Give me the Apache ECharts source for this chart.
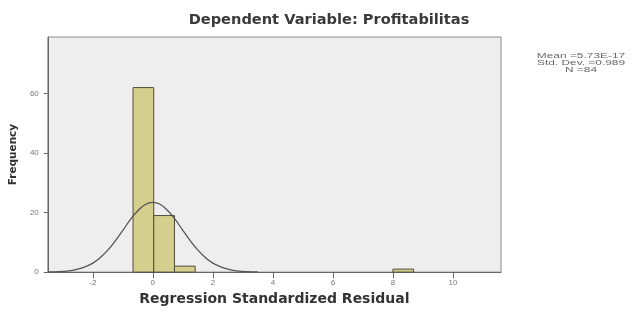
<!DOCTYPE html>
<html>
<head>
<meta charset="utf-8">
<script src="https://cdn.jsdelivr.net/npm/echarts@6/dist/echarts.min.js"></script>
<style>
html,body{margin:0;padding:0;background:#fff;}
#chart{width:632px;height:311px;}
</style>
</head>
<body>
<div id="chart"></div>
<script>
// Histogram bins (start of each bin) and counts
const binStarts = [-0.66, 0.03, 0.72, 8.0];
const binWidth = 0.69;
const counts = [62, 19, 2, 1];
// Normal curve
const curveX = [-3.5,-3.25,-3,-2.75,-2.5,-2.25,-2,-1.75,-1.5,-1.25,-1,-0.75,-0.5,-0.25,0,0.25,0.5,0.75,1,1.25,1.5,1.75,2,2.25,2.5,2.75,3,3.25,3.5];
const curveY = [0.04,0.1,0.23,0.49,0.96,1.8,3.0,4.9,7.4,10.5,14.0,17.6,20.6,22.7,23.4,22.7,20.6,17.6,14.0,10.5,7.4,4.9,3.0,1.8,0.96,0.49,0.23,0.1,0.04];
const xTicks = [-2, 0, 2, 4, 6, 8, 10];
const yTicks = [0, 20, 40, 60];
const titleText = 'Dependent Variable: Profitabilitas';
const xName = 'Regression Standardized Residual';
const yName = 'Frequency';
const statsLines = ['Mean =5.73E-17', 'Std. Dev. =0.989', 'N =84'];

const chart = echarts.init(document.getElementById('chart'), null, {renderer: 'canvas'});
const font = 'Liberation Sans, Arial, sans-serif';
const boldFont = 'DejaVu Sans, Verdana, sans-serif';

const barData = binStarts.map((s, i) => [s, s + binWidth, counts[i]]);
const lineData = curveX.map((x, i) => [x, curveY[i]]);

chart.setOption({
  animation: false,
  backgroundColor: '#ffffff',
  title: {
    text: titleText,
    left: 324, top: 8, textAlign: 'center',
    textStyle: {fontFamily: boldFont, fontSize: 14.6, fontWeight: 'bold', color: '#3a3a3a'}
  },
  grid: {
    left: 47, right: 131, top: 37, bottom: 38,
    show: true, backgroundColor: '#eeeeee', borderColor: '#8a8a8a', borderWidth: 1
  },
  xAxis: {
    type: 'value', min: -3.5, max: 11.6,
    name: xName, nameLocation: 'middle', nameGap: 17,
    nameTextStyle: {fontFamily: boldFont, fontSize: 14, fontWeight: 'bold', color: '#333', verticalAlign: 'top'},
    axisLine: {show: true, onZero: false, lineStyle: {color: '#666', width: 1}},
    axisTick: {show: true, customValues: xTicks, length: 6, lineStyle: {color: '#666'}},
    axisLabel: {customValues: xTicks, fontFamily: font, fontSize: 8, color: '#777', margin: 7},
    splitLine: {show: false}
  },
  yAxis: {
    type: 'value', min: 0, max: 79,
    name: yName, nameLocation: 'middle', nameGap: 28, nameRotate: 90,
    nameTextStyle: {fontFamily: boldFont, fontSize: 10.5, fontWeight: 'bold', color: '#333'},
    axisLine: {show: true, onZero: false, lineStyle: {color: '#666', width: 1}},
    axisTick: {show: true, customValues: yTicks, length: 4, lineStyle: {color: '#666'}},
    axisLabel: {customValues: yTicks, fontFamily: font, fontSize: 8, color: '#777', margin: 9},
    splitLine: {show: false}
  },
  graphic: statsLines.map((t, i) => ({
    type: 'text', x: 581, y: 53 + i * 7, scaleX: 1.7,
    style: {text: t, fontFamily: font, fontSize: 7, fill: '#666', align: 'center', verticalAlign: 'top'}
  })),
  series: [
    {
      type: 'custom',
      data: barData,
      encode: {x: [0, 1], y: 2},
      renderItem: function (params, api) {
        const p0 = api.coord([api.value(0), 0]);
        const p1 = api.coord([api.value(1), api.value(2)]);
        return {
          type: 'rect',
          shape: {x: p0[0], y: p1[1], width: p1[0] - p0[0], height: p0[1] - p1[1]},
          style: {fill: '#d5cf8e', stroke: '#4d4d3a', lineWidth: 1}
        };
      },
      z: 2
    },
    {
      type: 'line',
      data: lineData,
      smooth: true,
      showSymbol: false,
      lineStyle: {color: '#555555', width: 1.3},
      z: 3
    }
  ]
});
</script>
</body>
</html>
